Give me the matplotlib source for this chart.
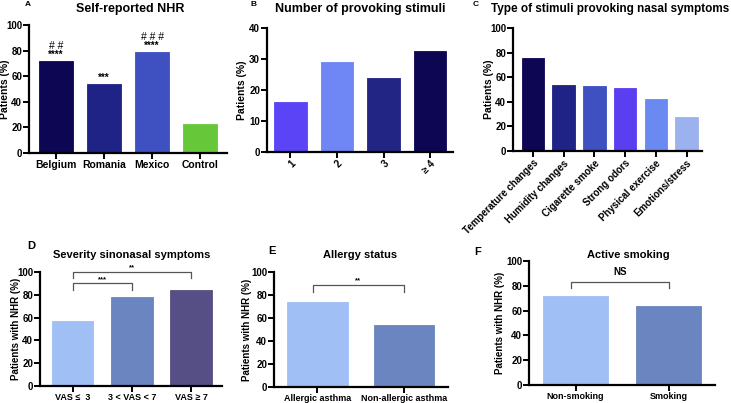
import matplotlib
matplotlib.use('Agg')
import matplotlib.pyplot as plt

plt.rcParams['font.family'] = ['Liberation Sans', 'DejaVu Sans']
plt.rcParams['font.weight'] = 'bold'

W, H = 731, 403

# panel A
a_cats = ['Belgium', 'Romania', 'Mexico', 'Control']
a_vals = [72, 54, 79, 23]
a_cols = ['#0d0652', '#1f2386', '#3f50c0', '#66c838']
a_marks = [('##', '****'), ('', '***'), ('###', '****'), ('', '')]

# panel B
b_cats = ['1', '2', '3', '\u2265 4']
b_vals = [16, 29, 24, 32.5]
b_cols = ['#5a44f5', '#6f86f5', '#232584', '#0d0652']

# panel C
c_cats = ['Temperature changes', 'Humidity changes', 'Cigarette smoke',
          'Strong odors', 'Physical exercise', 'Emotions/stress']
c_vals = [76, 54, 53, 51.5, 42.5, 28]
c_cols = ['#0d0652', '#1f2386', '#3f50c0', '#5a3ff0', '#6a8af2', '#9cb2ef']

# panel D
d_cats = ['VAS \u2264  3', '3 < VAS < 7', 'VAS \u2265 7']
d_vals = [57, 78, 84]
d_cols = ['#a0bff5', '#6a85c0', '#564f86']

# panel E
e_cats = ['Allergic asthma', 'Non-allergic asthma']
e_vals = [74, 53.5]
e_cols = ['#a0bff5', '#6a85c0']

# panel F
f_cats = ['Non-smoking', 'Smoking']
f_vals = [71.5, 63.5]
f_cols = ['#a0bff5', '#6a85c0']


def px_axes(fig, x0, x1, ytop, ybot):
    ax = fig.add_axes([x0 / W, (H - ybot) / H, (x1 - x0) / W, (ybot - ytop) / H])
    ax._px = (x0, x1)
    return ax


def ylab(ax, text, xc, size):
    # put the y label centre at pixel column xc
    x0, x1 = ax._px
    ax.set_ylabel(text, fontsize=size, fontweight='bold', va='center')
    ax.yaxis.set_label_coords((xc - x0) / (x1 - x0), 0.5)


def style(ax, ymax, step, xlim):
    for s in ['top', 'right']:
        ax.spines[s].set_visible(False)
    for s in ['left', 'bottom']:
        ax.spines[s].set_linewidth(1.6)
    ax.set_ylim(0, ymax)
    ax.set_xlim(*xlim)
    ax.set_yticks(range(0, ymax + 1, step))
    ax.tick_params(axis='both', length=4, width=1.4, labelsize=7, pad=1)
    for lab in ax.get_yticklabels():
        lab.set_fontweight('bold')


def bars(ax, vals, cols, width=0.7):
    x = list(range(len(vals)))
    ax.bar(x, vals, width=width, color=cols, edgecolor=cols,
           linewidth=0.6, zorder=2)
    return x


def bracket(ax, x0, x1, y, drop, label, ly, size=5.5):
    ax.plot([x0, x0, x1, x1], [y - drop, y, y, y - drop], color='#555555',
            lw=0.9, clip_on=False)
    ax.text((x0 + x1) / 2, ly, label, ha='center', va='bottom',
            fontsize=size, clip_on=False)


fig = plt.figure(figsize=(W / 100, H / 100), dpi=100)

# A
ax = px_axes(fig, 29, 227, 25, 153)
x = bars(ax, a_vals, a_cols)
style(ax, 100, 20, (-0.56, 3.56))
ax.set_xticks(x)
ax.set_xticklabels(a_cats, fontsize=7.5, fontweight='bold')
for xi, v, (hh, st) in zip(x, a_vals, a_marks):
    if st:
        ax.text(xi, v + 1, st, ha='center', va='bottom', fontsize=7)
    if hh:
        ax.text(xi, v + 8, ' '.join(hh), ha='center', va='bottom',
                fontsize=7.5, fontweight='normal')
ylab(ax, 'Patients (%)', 5, 7.5)
fig.text(130 / W, 1 - 9 / H, 'Self-reported NHR', fontsize=9,
         fontweight='bold', ha='center', va='center')
fig.text(25 / W, 1 - 5 / H, 'A', fontsize=6, fontweight='bold', va='center')

# B
ax = px_axes(fig, 267, 453, 28, 152)
x = bars(ax, b_vals, b_cols)
style(ax, 40, 10, (-0.5, 3.49))
ax.set_xticks(x)
ax.set_xticklabels(b_cats, rotation=45, ha='right', rotation_mode='anchor',
                   fontsize=7, fontweight='bold')
ylab(ax, 'Patients (%)', 242, 7.5)
fig.text(360 / W, 1 - 9 / H, 'Number of provoking stimuli', fontsize=9,
         fontweight='bold', ha='center', va='center')
fig.text(250 / W, 1 - 5 / H, 'B', fontsize=6, fontweight='bold', va='center')

# C
ax = px_axes(fig, 513, 702, 28, 151)
x = bars(ax, c_vals, c_cols, width=0.73)
style(ax, 100, 20, (-0.65, 5.5))
ax.set_xticks(x)
ax.set_xticklabels(c_cats, rotation=45, ha='right', rotation_mode='anchor',
                   fontsize=7, fontweight='bold')
ylab(ax, 'Patients (%)', 489, 7.5)
fig.text(610 / W, 1 - 9 / H, 'Type of stimuli provoking nasal symptoms',
         fontsize=8.5, fontweight='bold', ha='center', va='center')
fig.text(473 / W, 1 - 5 / H, 'C', fontsize=6, fontweight='bold', va='center')

# D
ax = px_axes(fig, 40, 222, 272, 386)
x = bars(ax, d_vals, d_cols)
style(ax, 100, 20, (-0.55, 2.52))
ax.set_xticks(x)
ax.set_xticklabels(d_cats, fontsize=6.5, fontweight='bold')
bracket(ax, 0, 1, 90, 6, '***', 90.5)
bracket(ax, 0, 2, 100, 5, '**', 100.5)
ylab(ax, 'Patients with NHR (%)', 16, 7)
fig.text(132 / W, 1 - 255 / H, 'Severity sinonasal symptoms', fontsize=8,
         fontweight='bold', ha='center', va='center')
fig.text(27 / W, 1 - 246 / H, 'D', fontsize=8, fontweight='bold', va='center')

# E
ax = px_axes(fig, 274, 448, 272, 387)
x = bars(ax, e_vals, e_cols)
style(ax, 100, 20, (-0.5, 1.51))
ax.set_xticks(x)
ax.set_xticklabels(e_cats, fontsize=6.5, fontweight='bold')
bracket(ax, -0.05, 1.0, 89, 6, '**', 89.5)
ylab(ax, 'Patients with NHR (%)', 247, 7)
fig.text(360 / W, 1 - 255 / H, 'Allergy status', fontsize=8,
         fontweight='bold', ha='center', va='center')
fig.text(268 / W, 1 - 251 / H, 'E', fontsize=8, fontweight='bold', va='center')

# F
ax = px_axes(fig, 529, 715, 261, 385)
x = bars(ax, f_vals, f_cols)
style(ax, 100, 20, (-0.5, 1.5))
ax.set_xticks(x)
ax.set_xticklabels(f_cats, fontsize=6.5, fontweight='bold')
bracket(ax, -0.05, 1.0, 83, 5, 'NS', 87, size=7)
ylab(ax, 'Patients with NHR (%)', 500, 7)
fig.text(628 / W, 1 - 255 / H, 'Active smoking', fontsize=8,
         fontweight='bold', ha='center', va='center')
fig.text(474 / W, 1 - 252 / H, 'F', fontsize=8, fontweight='bold', va='center')

fig.savefig('out.png', dpi=100)
